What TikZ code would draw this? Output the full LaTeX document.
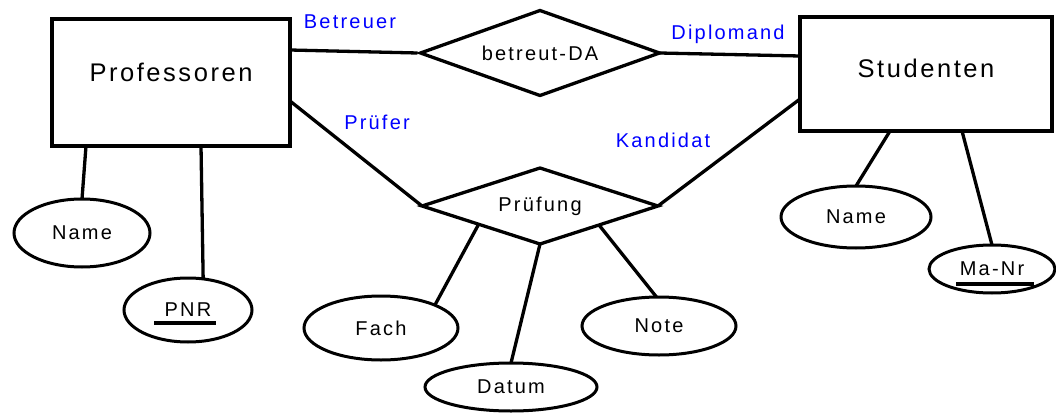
\documentclass[tikz,border=0pt]{standalone}
\usepackage{fontspec}
\setmainfont{Liberation Sans}
\newfontfamily\lblfont[LetterSpace=11]{Liberation Sans}
\newfontfamily\entfont[LetterSpace=10]{Liberation Sans}
\usetikzlibrary{shapes.geometric,calc}
\tikzset{
  every node/.style={outer sep=0pt},
  smalltext/.style={font=\lblfont\fontsize{20}{20}\selectfont},
  bigtext/.style={font=\entfont\fontsize{25.5}{25.5}\selectfont},
  entity/.style={draw, line width=3.3pt, rectangle, inner sep=0pt},
  relation/.style={draw, line width=3.3pt, diamond, aspect=3, inner sep=0pt, smalltext},
  attr/.style={draw, line width=3pt, ellipse, inner sep=0pt, smalltext},
  role/.style={text=blue, inner sep=0pt, smalltext},
  conn/.style={line width=3.3pt},
  keyline/.style={line width=3.3pt}
}
\begin{document}
\begin{tikzpicture}[x=1pt,y=-1pt]
\useasboundingbox (0,0) rectangle (1056,414);

% entities
\node[entity, minimum width=238pt, minimum height=127pt,
      label={[bigtext, yshift=10.5pt]center:Professoren}] (prof) at (171,82.5) {};
\node[entity, minimum width=252pt, minimum height=114pt,
      label={[bigtext, yshift=6pt]center:Studenten}] (stud) at (926,74) {};

% relationships
\node[relation, minimum width=239pt, minimum height=85pt] (bda) at (540,53) {betreut-DA};
\node[relation, minimum width=236pt, minimum height=76pt] (pruef) at (540,206) {Prüfung};

% attributes
\node[attr, minimum width=136pt, minimum height=68pt] (pname) at (82,233) {Name};
\node[attr, minimum width=128pt, minimum height=64pt] (pnr) at (188,310) {PNR};
\node[attr, minimum width=154pt, minimum height=64pt] (fach) at (381,328) {Fach};
\node[attr, minimum width=172pt, minimum height=48pt] (datum) at (511,387) {Datum};
\node[attr, minimum width=154pt, minimum height=58pt] (note) at (659,326) {Note};
\node[attr, minimum width=150pt, minimum height=62pt] (sname) at (856,217) {Name};
\node[attr, minimum width=126pt, minimum height=48pt] (manr) at (992,269) {Ma-Nr};

% key underlines
\draw[keyline] ([xshift=-34pt,yshift=-13pt]pnr.center) -- ([xshift=28pt,yshift=-13pt]pnr.center);
\draw[keyline] ([xshift=-36pt,yshift=-15pt]manr.center) -- ([xshift=42pt,yshift=-15pt]manr.center);

% connectors
\draw[conn] ([yshift=32.5pt]prof.east) -- ([xshift=-3pt]bda.west);
\draw[conn] (bda.east) -- ([yshift=18pt]stud.west);
\draw[conn] ([yshift=-18.5pt]prof.east) -- (pruef.west);
\draw[conn] ([yshift=-25pt]stud.west) -- (pruef.east);
\draw[conn] ([xshift=-85pt]prof.south) -- (pname.north);
\draw[conn] ([xshift=30pt]prof.south) -- (pnr.64);
\draw[conn] ($(pruef.west)!0.48!(pruef.south)$) -- (fach.23);
\draw[conn] (pruef.south) -- (datum.north);
\draw[conn] ($(pruef.south)!0.5!(pruef.east)$) -- (note.95);
\draw[conn] ([xshift=-36pt]stud.south) -- (sname.north);
\draw[conn] ([xshift=36pt]stud.south) -- (manr.north);

% role labels
\node[role] (lbetr) at (350,22) {Betreuer};
\node[role] (lpruef) at (377,122) {Prüfer};
\node[role] (ldipl) at (728,34) {Diplomand};
\node[role] (lkand) at (663,140) {Kandidat};
\end{tikzpicture}
\end{document}
